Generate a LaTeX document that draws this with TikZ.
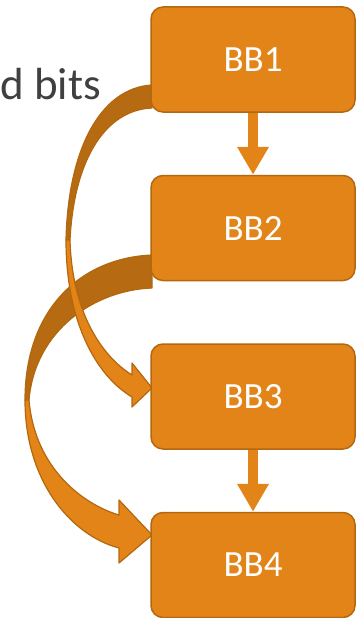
\documentclass[tikz,border=0pt]{standalone}
\usepackage{fontspec}
\setmainfont{Carlito}
\usepackage{tikz}
\usetikzlibrary{arrows.meta,backgrounds}
\definecolor{bborange}{HTML}{E38418}
\definecolor{bbedge}{HTML}{B3680F}
\definecolor{bbback}{HTML}{B66A12}
\definecolor{bbtext}{HTML}{404040}

\begin{document}
\begin{tikzpicture}[x=1pt,y=-1pt,
  bbox/.style={rectangle,rounded corners=12pt,draw=bbedge,line width=1.5pt,fill=bborange,
    minimum width=204pt,minimum height=105pt,text=white,font=\fontsize{37}{37}\selectfont},
  flow/.style={draw=bborange,line width=10pt,-{Triangle[width=30pt,length=28pt]}},
  backface/.style={fill=bbback,draw=bbedge,line width=1.2pt,line join=round},
  frontface/.style={fill=bborange,draw=bbedge,line width=1.2pt,line join=round}]
\useasboundingbox (0,0) rectangle (360,618);
\node[bbox] (bb1) at (253,59.5) {BB1};
\node[bbox] (bb2) at (253,228) {BB2};
\node[bbox] (bb3) at (253,396.5) {BB3};
\node[bbox] (bb4) at (253,565) {BB4};
\node[anchor=base east,inner sep=0pt,text=bbtext,font=\fontsize{45}{45}\selectfont] (note) at (101,99) {d bits};

\draw[flow] (bb1) -- (bb2);
\draw[flow] (bb3) -- (bb4);

\begin{pgfonlayer}{background}
% BB2 -> BB4
\begin{scope}[shift={(bb2.center)}]
  \draw[backface] (-101,27) .. controls (-173,30) and (-228,82) .. (-228,172)
    -- (-224,172) .. controls (-218,102) and (-158,62) .. (-101,60) -- cycle;
\end{scope}
\begin{scope}[shift={(bb4.center)}]
  \draw[frontface] (-228,-165) .. controls (-228,-85) and (-183,-30) .. (-134,-17)
    -- (-134,-2) -- (-101,-30) -- (-134,-65) -- (-134,-50)
    .. controls (-168,-60) and (-218,-95) .. (-224,-165) -- cycle;
\end{scope}
% BB1 -> BB3
\begin{scope}[shift={(bb1.center)}]
  \draw[backface] (-101,25.5) .. controls (-153,28.5) and (-185,90.5) .. (-187,180.5)
    -- (-183,180.5) .. controls (-179,100.5) and (-148,50.5) .. (-101,48.5) -- cycle;
\end{scope}
\begin{scope}[shift={(bb3.center)}]
  \draw[frontface] (-187,-156.5) .. controls (-187,-76.5) and (-158,-21.5) .. (-121,0.5)
    -- (-121,10.5) -- (-101,-8.5) -- (-121,-33.5) -- (-121,-21.5)
    .. controls (-153,-41.5) and (-181,-86.5) .. (-183,-156.5) -- cycle;
\end{scope}
\end{pgfonlayer}
\end{tikzpicture}
\end{document}
